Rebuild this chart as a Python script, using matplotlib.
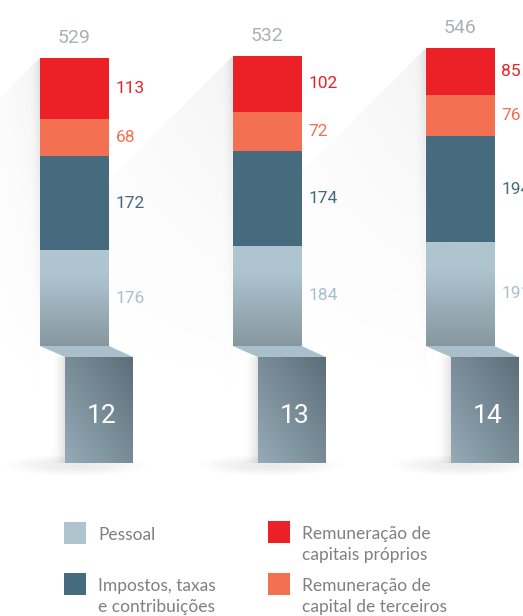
import matplotlib
matplotlib.use('Agg')
import matplotlib.pyplot as plt
import numpy as np
from matplotlib.patches import Polygon, Rectangle
from matplotlib.colors import LinearSegmentedColormap

# dados (milhões)
years = ['12', '13', '14']
pessoal = [176, 184, 191]
impostos = [172, 174, 194]
terceiros = [68, 72, 76]
proprios = [113, 102, 85]
totals = [529, 532, 546]

legend_labels = ['Pessoal', 'Impostos, taxas\ne contribuições',
                 'Remuneração de\ncapitais próprios',
                 'Remuneração de\ncapital de terceiros']

C_LIGHT_TOP = '#aec5d0'
C_LIGHT_BOT = '#8797a0'
C_DARK = '#466b7e'
C_ORANGE = '#f37052'
C_RED = '#ec2027'
C_LIGHT_TXT = '#a9bfcb'
C_TOTAL = '#a9b1b6'
C_LEGEND = '#808080'

NUM_FONT = ['Roboto', 'DejaVu Sans']
LEG_FONT = ['Lato', 'DejaVu Sans']

W, H = 523, 616
fig = plt.figure(figsize=(W / 100, H / 100), dpi=100)

# eixo de fundo em pixels (sombras, pedestais, legenda)
bg = fig.add_axes([0, 0, 1, 1])
bg.set_xlim(0, W)
bg.set_ylim(H, 0)
bg.axis('off')

base_px = 346       # linha do valor 0
px_per_unit = 0.545
step_px = 192.75
first_px = 74.5
bar_w = 69 / step_px

ax = fig.add_axes([0, (H - base_px) / H, 1, base_px / H])
ax.set_xlim(-first_px / step_px, (W - first_px) / step_px)
ax.set_ylim(0, base_px / px_per_unit)
ax.axis('off')
ax.patch.set_alpha(0)


def to_px(x, y):
    disp = ax.transData.transform((x, y))
    return bg.transData.inverted().transform(disp)


def rgba_img(alpha, gray=0.45):
    img = np.zeros(alpha.shape + (4,))
    img[..., :3] = gray
    img[..., 3] = np.clip(alpha, 0, 1)
    return img


x = np.arange(len(years))

# sombras diagonais
prev_right = 0
for i in x:
    xl, yt = to_px(i - bar_w / 2, totals[i])
    xr, _ = to_px(i + bar_w / 2, 0)
    d = xl - prev_right
    ybot = base_px + 60
    poly = Polygon([(xl, yt), (prev_right, yt + d), (prev_right, ybot),
                    (xl, ybot)], closed=True, facecolor='none',
                   edgecolor='none')
    bg.add_patch(poly)
    n = 200
    gx = np.linspace(0, 1, n)[None, :]
    gy = np.linspace(0, 1, n)[:, None]
    fade = np.clip(1 - gy, 0, 1) ** 1.3
    a = (0.03 + 0.05 * gx) * fade
    # bordo escuro junto à barra
    edge_w = 12 / max(d, 1)
    a = a + 0.16 * np.clip((gx - (1 - edge_w)) / edge_w, 0, 1) ** 2 * fade
    im = bg.imshow(rgba_img(a), aspect='auto', interpolation='bilinear',
                   extent=(prev_right, xl, ybot, yt), zorder=0)
    im.set_clip_path(poly)
    prev_right = xr

# pedestais
ped_cm = LinearSegmentedColormap.from_list('ped', ['#95abb7', '#5d6e79'])
for i in x:
    xl, _ = to_px(i - bar_w / 2, 0)
    xr, _ = to_px(i + bar_w / 2, 0)
    fl, fr, ft, fb = xl + 25, xr + 24, base_px + 11, base_px + 117
    # sombra difusa por baixo do pedestal
    ex, ey = np.meshgrid(np.linspace(-1, 1, 80), np.linspace(-1, 1, 30))
    ea = 0.13 * np.clip(1 - (ex ** 2 + ey ** 2), 0, 1) ** 1.5
    bg.imshow(rgba_img(ea, 0.4), aspect='auto', interpolation='bilinear',
              extent=(fl - 65, fr + 20, fb + 14, fb - 10), zorder=1)
    sx = np.linspace(0, 1, 50)[None, :] * np.ones((50, 1))
    bg.imshow(rgba_img(0.2 * sx ** 2), aspect='auto',
              interpolation='bilinear',
              extent=(fl - 16, fl, fb, ft), zorder=1)
    gx, gy = np.meshgrid(np.linspace(0, 1, 60), np.linspace(0, 1, 80))
    g = np.clip((gx + (1 - gy)) / 2, 0, 1)
    bg.imshow(g, cmap=ped_cm, vmin=0, vmax=1, aspect='auto',
              interpolation='bilinear', extent=(fl, fr, fb, ft), zorder=2)
    bg.add_patch(Polygon([(xl, base_px), (xr, base_px), (fr, ft), (fl, ft)],
                         closed=True, facecolor='#a9c0cc', edgecolor='none',
                         zorder=3))
    bg.text((fl + fr) / 2 + 3, (ft + fb) / 2 + 6, years[i], color='white',
            fontsize=19, family=NUM_FONT, ha='center', va='center',
            zorder=4)
bg.set_xlim(0, W)
bg.set_ylim(H, 0)

# barras empilhadas
bottom = np.zeros(len(x))
light = ax.bar(x, pessoal, bar_w, bottom=bottom, color=C_LIGHT_TOP,
               linewidth=0, zorder=2)
lcm = LinearSegmentedColormap.from_list('lt', [(0, C_LIGHT_BOT),
                                               (0.75, C_LIGHT_TOP),
                                               (1, C_LIGHT_TOP)])
for i, r in enumerate(light):
    im = ax.imshow(np.linspace(1, 0, 100)[:, None], cmap=lcm, vmin=0, vmax=1,
                   aspect='auto', zorder=3, interpolation='bilinear',
                   extent=(x[i] - bar_w / 2, x[i] + bar_w / 2, 0, pessoal[i]))
    im.set_clip_path(r)
bottom += pessoal

series = [(impostos, C_DARK), (terceiros, C_ORANGE), (proprios, C_RED)]
for vals, col in series:
    ax.bar(x, vals, bar_w, bottom=bottom, color=col, linewidth=0, zorder=4)
    bottom += vals

ax.set_xlim(-first_px / step_px, (W - first_px) / step_px)
ax.set_ylim(0, base_px / px_per_unit)

# rótulos de valores
label_series = [(pessoal, C_LIGHT_TXT), (impostos, C_DARK),
                (terceiros, C_ORANGE), (proprios, C_RED)]
for i in x:
    b = 0
    for vals, col in label_series:
        ax.text(i + bar_w / 2 + 0.035, b + vals[i] / 2, str(vals[i]),
                color=col, fontsize=12.5, family=NUM_FONT, ha='left',
                va='center', zorder=5)
        b += vals[i]
    ax.text(i, totals[i] + 37, str(totals[i]), color=C_TOTAL, fontsize=14,
            family=NUM_FONT, ha='center', va='center', zorder=5)

# legenda
leg_colors = [C_LIGHT_TOP, C_DARK, C_RED, C_ORANGE]
leg_pos = [(64, 522), (64, 573), (268, 521), (268, 573)]
for (lx, ly), col, lab in zip(leg_pos, leg_colors, legend_labels):
    bg.add_patch(Rectangle((lx, ly), 22, 22, facecolor=col,
                           edgecolor='none'))
    for k, line in enumerate(lab.split('\n')):
        bg.text(lx + 34, ly + 13 + k * 21, line, color=C_LEGEND,
                fontsize=12.5, family=LEG_FONT, ha='left', va='center')

fig.savefig('out.png', dpi=100, facecolor='white')
